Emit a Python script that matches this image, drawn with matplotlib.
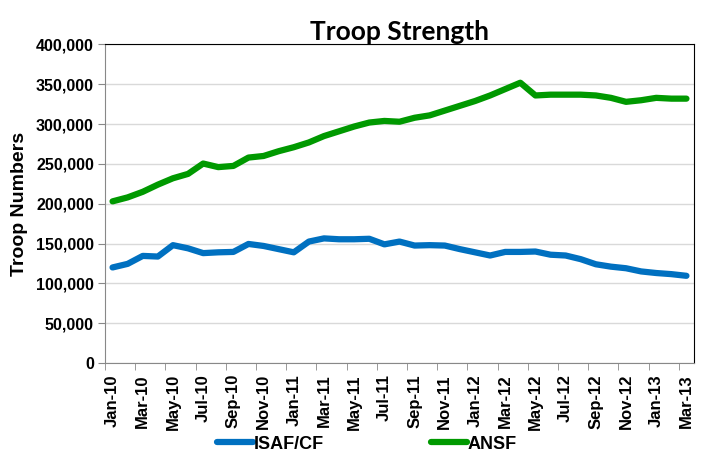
import numpy as np
import matplotlib
matplotlib.use('Agg')
import matplotlib.pyplot as plt

months = ['Jan-10', 'Feb-10', 'Mar-10', 'Apr-10', 'May-10', 'Jun-10', 'Jul-10', 'Aug-10',
          'Sep-10', 'Oct-10', 'Nov-10', 'Dec-10', 'Jan-11', 'Feb-11', 'Mar-11', 'Apr-11',
          'May-11', 'Jun-11', 'Jul-11', 'Aug-11', 'Sep-11', 'Oct-11', 'Nov-11', 'Dec-11',
          'Jan-12', 'Feb-12', 'Mar-12', 'Apr-12', 'May-12', 'Jun-12', 'Jul-12', 'Aug-12',
          'Sep-12', 'Oct-12', 'Nov-12', 'Dec-12', 'Jan-13', 'Feb-13', 'Mar-13']

isaf = [120000, 124500, 134500, 133700, 148000, 144000, 138000, 139000, 139500, 149500,
        147000, 143000, 139000, 152500, 156500, 155400, 155400, 156000, 149000, 152500,
        147500, 148000, 147500, 143000, 139000, 135000, 139500, 139500, 140000, 136000,
        135000, 130400, 124000, 121000, 119000, 115000, 113000, 111600, 109500]

ansf = [203000, 208000, 215000, 224000, 232000, 237500, 250500, 246000, 247500, 258000,
        260000, 266000, 271000, 277000, 285000, 291000, 297000, 302000, 304000, 303000,
        308000, 311000, 317000, 323000, 329000, 336000, 344000, 352000, 336000, 337000,
        337000, 337000, 336000, 333000, 328000, 330000, 333000, 332000, 332000]

fig = plt.figure(figsize=(7.14, 4.65), dpi=100)
ax = fig.add_axes([105/714, 1-363/465, (694-105)/714, (363-44.5)/465])

x = np.arange(len(months))
ax.plot(x, isaf, color='#0070C0', lw=4.5, solid_capstyle='round', solid_joinstyle='round', label='ISAF/CF')
ax.plot(x, ansf, color='#009900', lw=4.5, solid_capstyle='round', solid_joinstyle='round', label='ANSF')

ax.set_xlim(-0.5, len(months) - 0.5)
ax.set_ylim(0, 400000)
ax.set_yticks(np.arange(0, 400001, 50000))
ax.set_yticklabels(['0' if v == 0 else f'{v:,}' for v in range(0, 400001, 50000)],
                   fontsize=11.5, fontweight='bold', family='Liberation Sans')
ax.grid(axis='y', color='#d9d9d9', lw=1)
ax.set_axisbelow(True)

ax.set_xticks(x[::2])
ax.set_xticklabels(months[::2], rotation=90, fontsize=12, fontweight='bold', family='Liberation Sans')
ax.set_xticks(np.arange(-0.5, len(months), 2), minor=True)
ax.tick_params(axis='x', which='major', length=0, pad=8)
ax.tick_params(axis='x', which='minor', length=5, color='#888888', direction='out')
ax.tick_params(axis='y', length=5, color='#888888', pad=3)

ax.spines['left'].set_color('#888888')
ax.spines['bottom'].set_color('#888888')
ax.spines['top'].set_color('black')
ax.spines['right'].set_color('black')

ax.set_ylabel('Troop Numbers', fontsize=14, fontweight='bold', family='Liberation Sans', labelpad=6)
ax.set_title('Troop Strength', fontsize=19, fontweight='bold', family='Lato', pad=2)

fig.legend(loc='center', bbox_to_anchor=(367/714, 1-444/465), ncol=2, frameon=False,
           prop={'family': 'Liberation Sans', 'weight': 'bold', 'size': 13},
           handlelength=2.0, handletextpad=0.05, columnspacing=5.9)

fig.savefig('out.png', dpi=100)
